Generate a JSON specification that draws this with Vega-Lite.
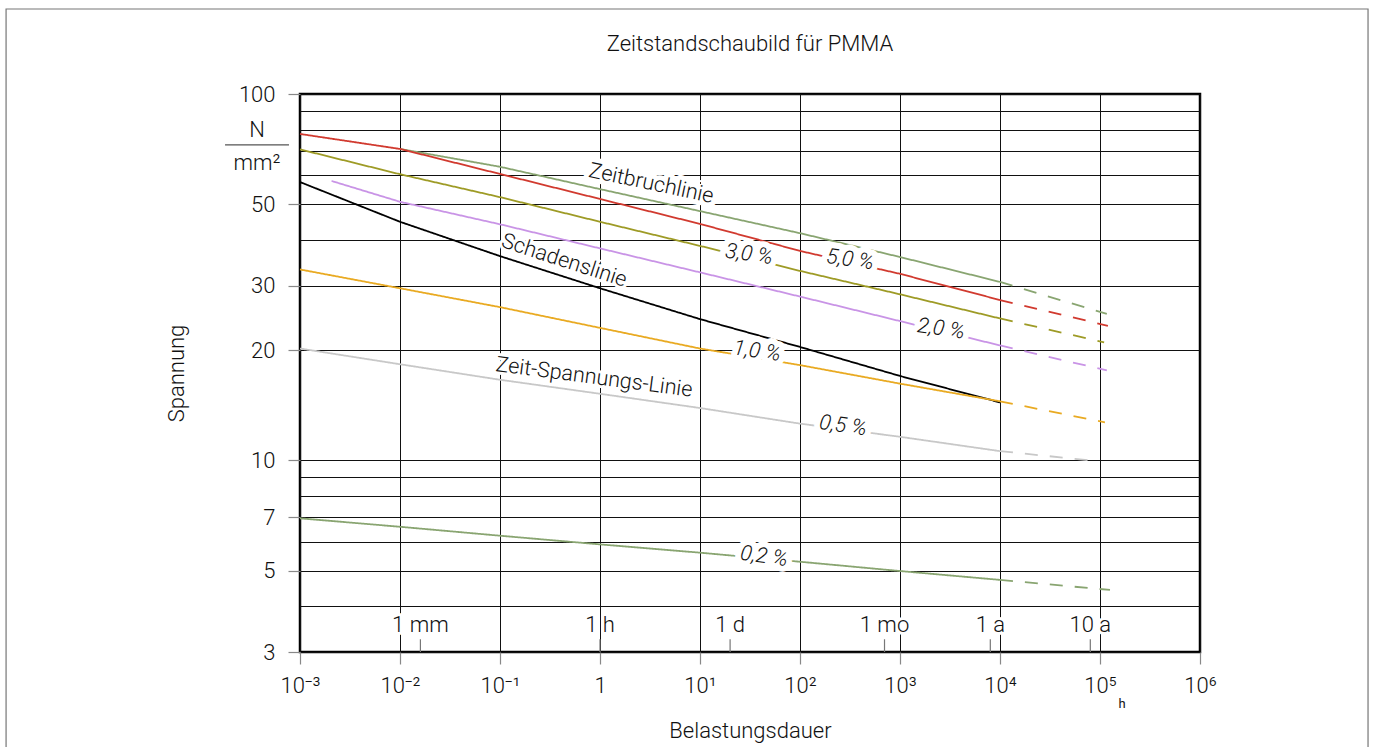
{
  "$schema": "https://vega.github.io/schema/vega-lite/v6.json",
  "width": 900,
  "height": 558,
  "autosize": {"type": "none"},
  "padding": {"left": 300, "top": 94, "right": 173, "bottom": 95},
  "background": "white",
  "title": {"text": "Zeitstandschaubild für PMMA", "fontSize": 22, "fontWeight": 300, "color": "#111111", "offset": -48, "anchor": "middle", "font": "Roboto"},
  "config": {
    "font": "Roboto",
    "view": {"stroke": "#000000", "strokeWidth": 2.5},
    "text": {"font": "Roboto", "fontWeight": 300}
  },
  "datasets": {
    "lines": [
      {"s": "Zeitbruchlinie", "p": "solid", "t": 0.01, "v": 70.8},
      {"s": "Zeitbruchlinie", "p": "solid", "t": 0.1, "v": 63.3},
      {"s": "Zeitbruchlinie", "p": "solid", "t": 1, "v": 55.0},
      {"s": "Zeitbruchlinie", "p": "solid", "t": 10, "v": 47.9},
      {"s": "Zeitbruchlinie", "p": "solid", "t": 100, "v": 41.7},
      {"s": "Zeitbruchlinie", "p": "solid", "t": 1000, "v": 35.9},
      {"s": "Zeitbruchlinie", "p": "solid", "t": 10000, "v": 30.7},
      {"s": "Zeitbruchlinie", "p": "dash", "t": 10000, "v": 30.7},
      {"s": "Zeitbruchlinie", "p": "dash", "t": 117000, "v": 25.1},
      {"s": "5,0 %", "p": "solid", "t": 0.001, "v": 77.8},
      {"s": "5,0 %", "p": "solid", "t": 0.01, "v": 70.8},
      {"s": "5,0 %", "p": "solid", "t": 0.1, "v": 60.5},
      {"s": "5,0 %", "p": "solid", "t": 1, "v": 51.7},
      {"s": "5,0 %", "p": "solid", "t": 10, "v": 44.2},
      {"s": "5,0 %", "p": "solid", "t": 100, "v": 37.3},
      {"s": "5,0 %", "p": "solid", "t": 1000, "v": 32.3},
      {"s": "5,0 %", "p": "solid", "t": 10000, "v": 27.4},
      {"s": "5,0 %", "p": "dash", "t": 10000, "v": 27.4},
      {"s": "5,0 %", "p": "dash", "t": 120000, "v": 23.3},
      {"s": "3,0 %", "p": "solid", "t": 0.001, "v": 70.6},
      {"s": "3,0 %", "p": "solid", "t": 0.01, "v": 60.4},
      {"s": "3,0 %", "p": "solid", "t": 0.1, "v": 52.3},
      {"s": "3,0 %", "p": "solid", "t": 1, "v": 44.8},
      {"s": "3,0 %", "p": "solid", "t": 10, "v": 38.5},
      {"s": "3,0 %", "p": "solid", "t": 100, "v": 32.9},
      {"s": "3,0 %", "p": "solid", "t": 1000, "v": 28.4},
      {"s": "3,0 %", "p": "solid", "t": 10000, "v": 24.4},
      {"s": "3,0 %", "p": "dash", "t": 10000, "v": 24.4},
      {"s": "3,0 %", "p": "dash", "t": 110000, "v": 21.0},
      {"s": "2,0 %", "p": "solid", "t": 0.00207, "v": 57.9},
      {"s": "2,0 %", "p": "solid", "t": 0.01, "v": 50.8},
      {"s": "2,0 %", "p": "solid", "t": 0.1, "v": 44.1},
      {"s": "2,0 %", "p": "solid", "t": 1, "v": 37.9},
      {"s": "2,0 %", "p": "solid", "t": 10, "v": 32.6},
      {"s": "2,0 %", "p": "solid", "t": 100, "v": 28.0},
      {"s": "2,0 %", "p": "solid", "t": 1000, "v": 24.0},
      {"s": "2,0 %", "p": "solid", "t": 10000, "v": 20.6},
      {"s": "2,0 %", "p": "dash", "t": 10000, "v": 20.6},
      {"s": "2,0 %", "p": "dash", "t": 117000, "v": 17.6},
      {"s": "Schadenslinie", "p": "solid", "t": 0.001, "v": 57.5},
      {"s": "Schadenslinie", "p": "solid", "t": 0.01, "v": 44.8},
      {"s": "Schadenslinie", "p": "solid", "t": 0.1, "v": 36.1},
      {"s": "Schadenslinie", "p": "solid", "t": 1, "v": 29.5},
      {"s": "Schadenslinie", "p": "solid", "t": 10, "v": 24.3},
      {"s": "Schadenslinie", "p": "solid", "t": 100, "v": 20.4},
      {"s": "Schadenslinie", "p": "solid", "t": 1000, "v": 17.0},
      {"s": "Schadenslinie", "p": "solid", "t": 10000, "v": 14.4},
      {"s": "1,0 %", "p": "solid", "t": 0.001, "v": 33.2},
      {"s": "1,0 %", "p": "solid", "t": 0.01, "v": 29.5},
      {"s": "1,0 %", "p": "solid", "t": 0.1, "v": 26.2},
      {"s": "1,0 %", "p": "solid", "t": 1, "v": 23.0},
      {"s": "1,0 %", "p": "solid", "t": 10, "v": 20.2},
      {"s": "1,0 %", "p": "solid", "t": 100, "v": 18.2},
      {"s": "1,0 %", "p": "solid", "t": 1000, "v": 16.2},
      {"s": "1,0 %", "p": "solid", "t": 10000, "v": 14.5},
      {"s": "1,0 %", "p": "dash", "t": 10000, "v": 14.5},
      {"s": "1,0 %", "p": "dash", "t": 112000, "v": 12.7},
      {"s": "0,5 %", "p": "solid", "t": 0.001, "v": 20.2},
      {"s": "0,5 %", "p": "solid", "t": 0.01, "v": 18.3},
      {"s": "0,5 %", "p": "solid", "t": 0.1, "v": 16.6},
      {"s": "0,5 %", "p": "solid", "t": 1, "v": 15.2},
      {"s": "0,5 %", "p": "solid", "t": 10, "v": 13.9},
      {"s": "0,5 %", "p": "solid", "t": 100, "v": 12.6},
      {"s": "0,5 %", "p": "solid", "t": 1000, "v": 11.6},
      {"s": "0,5 %", "p": "solid", "t": 10000, "v": 10.6},
      {"s": "0,5 %", "p": "dash", "t": 10000, "v": 10.6},
      {"s": "0,5 %", "p": "dash", "t": 95000, "v": 9.95},
      {"s": "0,2 %", "p": "solid", "t": 0.001, "v": 6.95},
      {"s": "0,2 %", "p": "solid", "t": 0.01, "v": 6.59},
      {"s": "0,2 %", "p": "solid", "t": 0.1, "v": 6.23},
      {"s": "0,2 %", "p": "solid", "t": 1, "v": 5.90},
      {"s": "0,2 %", "p": "solid", "t": 10, "v": 5.60},
      {"s": "0,2 %", "p": "solid", "t": 100, "v": 5.29},
      {"s": "0,2 %", "p": "solid", "t": 1000, "v": 4.99},
      {"s": "0,2 %", "p": "solid", "t": 10000, "v": 4.72},
      {"s": "0,2 %", "p": "dash", "t": 10000, "v": 4.72},
      {"s": "0,2 %", "p": "dash", "t": 125900, "v": 4.43}
    ],
    "curveLabels": [
      {"label": "Zeitbruchlinie", "t": 3.24, "v": 56.8},
      {"label": "Schadenslinie", "t": 0.437, "v": 35.0},
      {"label": "Zeit-Spannungs-Linie", "t": 0.871, "v": 16.8}
    ],
    "pctLabels": [
      {"label": "5,0 %", "t": 316, "v": 35.2},
      {"label": "3,0 %", "t": 30.9, "v": 36.4},
      {"label": "2,0 %", "t": 2570, "v": 22.8},
      {"label": "1,0 %", "t": 37.2, "v": 19.8},
      {"label": "0,5 %", "t": 269, "v": 12.4},
      {"label": "0,2 %", "t": 43.6, "v": 5.45}
    ],
    "times": [
      {"label": "1 mm", "t": 0.016},
      {"label": "1 h", "t": 1},
      {"label": "1 d", "t": 20},
      {"label": "1 mo", "t": 700},
      {"label": "1 a", "t": 8000},
      {"label": "10 a", "t": 80000}
    ]
  },
  "layer": [
    {
      "data": {"name": "lines"},
      "mark": {"type": "line", "strokeWidth": 1.8},
      "encoding": {
        "x": {
          "field": "t", "type": "quantitative",
          "scale": {"type": "log", "domain": [0.001, 1000000]},
          "axis": {
            "values": [0.001, 0.01, 0.1, 1, 10, 100, 1000, 10000, 100000, 1000000],
            "labelExpr": "['10⁻³','10⁻²','10⁻¹','1','10¹','10²','10³','10⁴','10⁵','10⁶'][round(log(datum.value)/LN10)+3]",
            "grid": true, "gridColor": "#111111", "gridWidth": 1,
            "ticks": true, "tickSize": 12, "tickColor": "#888888", "tickWidth": 1.2,
            "domain": false,
            "labelFont": "Roboto", "labelFontWeight": 300,
            "labelFontSize": 22, "labelPadding": 11, "labelColor": "#111111", "labelFlush": false, "labelOverlap": false,
            "title": "Belastungsdauer", "titleFont": "Roboto", "titleFontSize": 22, "titleFontWeight": 300, "titleColor": "#111111", "titlePadding": 24
          }
        },
        "y": {
          "field": "v", "type": "quantitative",
          "scale": {"type": "log", "domain": [3, 100]},
          "axis": {
            "values": [3, 4, 5, 6, 7, 8, 9, 10, 20, 30, 40, 50, 60, 70, 80, 90, 100],
            "labelExpr": "indexof([100,50,30,20,10,7,5,3], datum.value) >= 0 ? '' + datum.value : ''",
            "tickOpacity": {"condition": {"test": "indexof([100,50,30,20,10,7,5,3], datum.value) >= 0", "value": 1}, "value": 0},
            "grid": true, "gridColor": "#111111", "gridWidth": 1,
            "ticks": true, "tickSize": 12, "tickColor": "#888888", "tickWidth": 1.2,
            "domain": false,
            "labelFont": "Roboto", "labelFontWeight": 300,
            "labelFontSize": 22, "labelPadding": 13, "labelColor": "#111111", "labelFlush": false, "labelOverlap": false,
            "title": "Spannung", "titleFont": "Roboto", "titleFontSize": 22, "titleFontWeight": 300, "titleColor": "#111111", "titlePadding": 50
          }
        },
        "color": {
          "field": "s", "type": "nominal", "legend": null,
          "scale": {
            "domain": ["Zeitbruchlinie", "5,0 %", "3,0 %", "2,0 %", "Schadenslinie", "1,0 %", "0,5 %", "0,2 %"],
            "range": ["#89a571", "#d13a2f", "#9e9b26", "#c994e6", "#000000", "#e9aa22", "#c8c8c8", "#89a571"]
          }
        },
        "strokeDash": {
          "field": "p", "type": "nominal", "legend": null,
          "scale": {"domain": ["solid", "dash"], "range": [[1, 0], [13, 12]]}
        },
        "detail": {"field": "s"}
      }
    },
    {
      "data": {"name": "times"},
      "mark": {"type": "rule", "color": "#777777", "strokeWidth": 1.2},
      "encoding": {
        "x": {"field": "t", "type": "quantitative", "scale": {"type": "log", "domain": [0.001, 1000000]}},
        "y": {"datum": 3, "type": "quantitative", "scale": {"type": "log", "domain": [3, 100]}},
        "y2": {"datum": 3.25}
      }
    },
    {
      "data": {"name": "times"},
      "mark": {"type": "text", "fontSize": 22, "baseline": "middle", "align": "center", "stroke": "white", "strokeWidth": 6, "fill": "white", "strokeJoin": "round"},
      "encoding": {
        "x": {"field": "t", "type": "quantitative", "scale": {"type": "log", "domain": [0.001, 1000000]}},
        "y": {"datum": 3.55, "type": "quantitative", "scale": {"type": "log", "domain": [3, 100]}},
        "text": {"field": "label"}
      }
    },
    {
      "data": {"name": "times"},
      "mark": {"type": "text", "fontSize": 22, "baseline": "middle", "align": "center", "color": "#111111"},
      "encoding": {
        "x": {"field": "t", "type": "quantitative", "scale": {"type": "log", "domain": [0.001, 1000000]}},
        "y": {"datum": 3.55, "type": "quantitative", "scale": {"type": "log", "domain": [3, 100]}},
        "text": {"field": "label"}
      }
    },
    {
      "data": {"name": "curveLabels"},
      "transform": [{"filter": "datum.label == 'Zeitbruchlinie'"}],
      "mark": {"type": "text", "fontSize": 21.5, "angle": 12, "baseline": "middle", "align": "center", "stroke": "white", "strokeWidth": 10, "fill": "white", "strokeJoin": "round"},
      "encoding": {
        "x": {"field": "t", "type": "quantitative", "scale": {"type": "log", "domain": [0.001, 1000000]}},
        "y": {"field": "v", "type": "quantitative", "scale": {"type": "log", "domain": [3, 100]}},
        "text": {"field": "label"}
      }
    },
    {
      "data": {"name": "curveLabels"},
      "transform": [{"filter": "datum.label == 'Zeitbruchlinie'"}],
      "mark": {"type": "text", "fontSize": 21.5, "angle": 12, "baseline": "middle", "align": "center", "color": "#111111"},
      "encoding": {
        "x": {"field": "t", "type": "quantitative", "scale": {"type": "log", "domain": [0.001, 1000000]}},
        "y": {"field": "v", "type": "quantitative", "scale": {"type": "log", "domain": [3, 100]}},
        "text": {"field": "label"}
      }
    },
    {
      "data": {"name": "curveLabels"},
      "transform": [{"filter": "datum.label == 'Schadenslinie'"}],
      "mark": {"type": "text", "fontSize": 21.5, "angle": 18, "baseline": "middle", "align": "center", "stroke": "white", "strokeWidth": 6, "fill": "white", "strokeJoin": "round"},
      "encoding": {
        "x": {"field": "t", "type": "quantitative", "scale": {"type": "log", "domain": [0.001, 1000000]}},
        "y": {"field": "v", "type": "quantitative", "scale": {"type": "log", "domain": [3, 100]}},
        "text": {"field": "label"}
      }
    },
    {
      "data": {"name": "curveLabels"},
      "transform": [{"filter": "datum.label == 'Schadenslinie'"}],
      "mark": {"type": "text", "fontSize": 21.5, "angle": 18, "baseline": "middle", "align": "center", "color": "#111111"},
      "encoding": {
        "x": {"field": "t", "type": "quantitative", "scale": {"type": "log", "domain": [0.001, 1000000]}},
        "y": {"field": "v", "type": "quantitative", "scale": {"type": "log", "domain": [3, 100]}},
        "text": {"field": "label"}
      }
    },
    {
      "data": {"name": "curveLabels"},
      "transform": [{"filter": "datum.label == 'Zeit-Spannungs-Linie'"}],
      "mark": {"type": "text", "fontSize": 21.5, "angle": 7.5, "baseline": "middle", "align": "center", "stroke": "white", "strokeWidth": 6, "fill": "white", "strokeJoin": "round"},
      "encoding": {
        "x": {"field": "t", "type": "quantitative", "scale": {"type": "log", "domain": [0.001, 1000000]}},
        "y": {"field": "v", "type": "quantitative", "scale": {"type": "log", "domain": [3, 100]}},
        "text": {"field": "label"}
      }
    },
    {
      "data": {"name": "curveLabels"},
      "transform": [{"filter": "datum.label == 'Zeit-Spannungs-Linie'"}],
      "mark": {"type": "text", "fontSize": 21.5, "angle": 7.5, "baseline": "middle", "align": "center", "color": "#111111"},
      "encoding": {
        "x": {"field": "t", "type": "quantitative", "scale": {"type": "log", "domain": [0.001, 1000000]}},
        "y": {"field": "v", "type": "quantitative", "scale": {"type": "log", "domain": [3, 100]}},
        "text": {"field": "label"}
      }
    },
    {
      "data": {"name": "pctLabels"},
      "mark": {"type": "text", "fontSize": 21.5, "fontStyle": "italic", "angle": 8, "baseline": "middle", "align": "center", "stroke": "white", "strokeWidth": 12, "fill": "white", "strokeJoin": "round"},
      "encoding": {
        "x": {"field": "t", "type": "quantitative", "scale": {"type": "log", "domain": [0.001, 1000000]}},
        "y": {"field": "v", "type": "quantitative", "scale": {"type": "log", "domain": [3, 100]}},
        "text": {"field": "label"}
      }
    },
    {
      "data": {"name": "pctLabels"},
      "mark": {"type": "text", "fontSize": 21.5, "fontStyle": "italic", "angle": 8, "baseline": "middle", "align": "center", "color": "#111111"},
      "encoding": {
        "x": {"field": "t", "type": "quantitative", "scale": {"type": "log", "domain": [0.001, 1000000]}},
        "y": {"field": "v", "type": "quantitative", "scale": {"type": "log", "domain": [3, 100]}},
        "text": {"field": "label"}
      }
    },
    {
      "data": {"values": [{"u": "N"}]},
      "mark": {"type": "text", "fontSize": 22, "baseline": "alphabetic", "align": "center", "color": "#111111"},
      "encoding": {
        "x": {"datum": 0.000372, "type": "quantitative", "scale": {"type": "log", "domain": [0.001, 1000000]}},
        "y": {"datum": 76.3, "type": "quantitative", "scale": {"type": "log", "domain": [3, 100]}},
        "text": {"field": "u"}
      }
    },
    {
      "data": {"values": [{"u": "mm²"}]},
      "mark": {"type": "text", "fontSize": 22, "baseline": "alphabetic", "align": "center", "color": "#111111"},
      "encoding": {
        "x": {"datum": 0.000372, "type": "quantitative", "scale": {"type": "log", "domain": [0.001, 1000000]}},
        "y": {"datum": 62.0, "type": "quantitative", "scale": {"type": "log", "domain": [3, 100]}},
        "text": {"field": "u"}
      }
    },
    {
      "data": {"values": [{"u": "N/mm²"}]},
      "mark": {"type": "rule", "color": "#555555", "strokeWidth": 1.2},
      "encoding": {
        "x": {"datum": 0.000178, "type": "quantitative", "scale": {"type": "log", "domain": [0.001, 1000000]}},
        "x2": {"datum": 0.000776},
        "y": {"datum": 72.6, "type": "quantitative", "scale": {"type": "log", "domain": [3, 100]}}
      }
    },
    {
      "data": {"values": [{"u": "h"}]},
      "mark": {"type": "text", "fontSize": 13, "fontWeight": 400, "baseline": "middle", "align": "center", "fill": "#111111"},
      "encoding": {
        "x": {"datum": 166000, "type": "quantitative", "scale": {"type": "log", "domain": [0.001, 1000000]}},
        "y": {"datum": 2.17, "type": "quantitative", "scale": {"type": "log", "domain": [3, 100]}},
        "text": {"field": "u"}
      }
    },
    {
      "data": {"values": [{"u": "frame"}]},
      "mark": {"type": "rect", "fill": null, "fillOpacity": 0, "stroke": "#777777", "strokeWidth": 1.2},
      "encoding": {
        "x": {"datum": 1.15e-6, "type": "quantitative", "scale": {"type": "log", "domain": [0.001, 1000000]}},
        "x2": {"datum": 4.79e7},
        "y": {"datum": 170.6, "type": "quantitative", "scale": {"type": "log", "domain": [3, 100]}},
        "y2": {"datum": 1.43}
      }
    }
  ]
}
